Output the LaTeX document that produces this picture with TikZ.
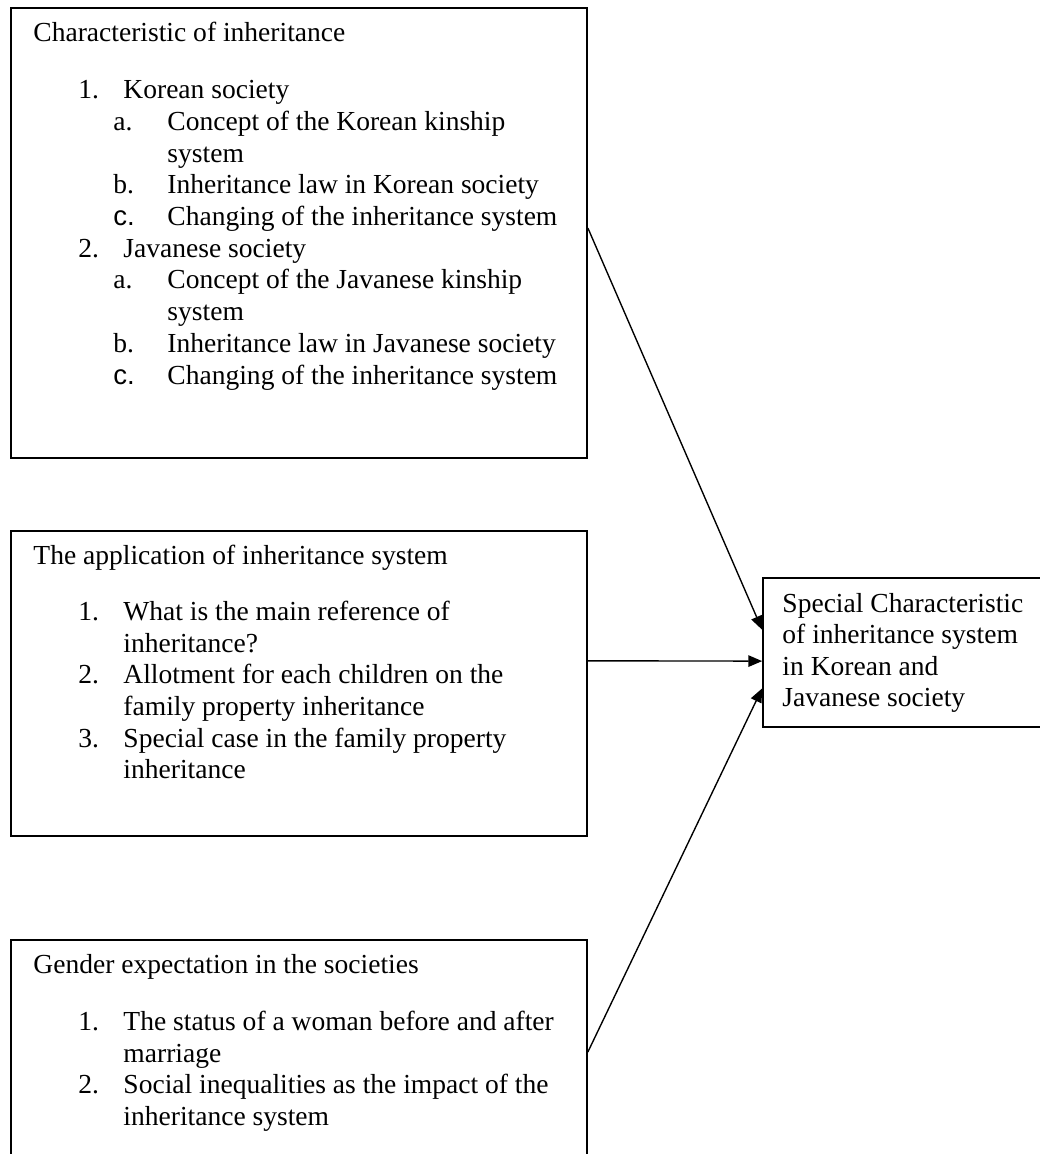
\documentclass[tikz,border=0pt]{standalone}
\usepackage{fontspec}
\setmainfont{Liberation Serif}
\setsansfont{Liberation Sans}
\usetikzlibrary{arrows.meta,calc}

\begin{document}
\begin{tikzpicture}[x=0.4359pt,y=-0.4359pt,
box/.style={draw,line width=0.75pt,inner sep=0pt},
txt/.style={anchor=base west,inner sep=0pt,font=\fontsize{12}{14}\selectfont},
lbl/.style={txt,font=\fontsize{12}{14}\selectfont\sffamily},
arr/.style={line width=0.6pt,-{Triangle[length=6pt,width=5pt]}}]
\useasboundingbox (0,0) rectangle (1040,1154);
\clip (0,0) rectangle (1040,1154);

% boxes
\node (bc) at (299,233) [box,minimum width=251.1pt,minimum height=196.2pt] {};
\node (ba) at (299,683.5) [box,minimum width=251.1pt,minimum height=132.9pt] {};
\node (bg) at (299,1070) [box,minimum width=251.1pt,minimum height=113.3pt] {};
\node (bs) at (931.5,652.5) [box,minimum width=146.9pt,minimum height=65pt] {};

% characteristic of inheritance
\node (c0) at (33,41) [txt] {Characteristic of inheritance};
\node (n1) at (78,98) [txt] {1.};
\node (c1) at (123,98) [txt] {Korean society};
\node (l1a) at (113,130) [txt] {a.};
\node (c1a) at (167,130) [txt] {Concept of the Korean kinship};
\node (c1aa) at (167,162) [txt] {system};
\node (l1b) at (113,193) [txt] {b.};
\node (c1b) at (167,193) [txt] {Inheritance law in Korean society};
\node (l1c) at (113,225) [lbl] {c.};
\node (c1c) at (167,225) [txt] {Changing of the inheritance system};
\node (n2) at (78,257) [txt] {2.};
\node (c2) at (123,257) [txt] {Javanese society};
\node (l2a) at (113,288) [txt] {a.};
\node (c2a) at (167,288) [txt] {Concept of the Javanese kinship};
\node (c2aa) at (167,320) [txt] {system};
\node (l2b) at (113,352) [txt] {b.};
\node (c2b) at (167,352) [txt] {Inheritance law in Javanese society};
\node (l2c) at (113,384) [lbl] {c.};
\node (c2c) at (167,384) [txt] {Changing of the inheritance system};

% application
\node (a0) at (33,564) [txt] {The application of inheritance system};
\node (m1) at (78,620) [txt] {1.};
\node (a1) at (123,620) [txt] {What is the main reference of};
\node (a1b) at (123,652) [txt] {inheritance?};
\node (m2) at (78,683) [txt] {2.};
\node (a2) at (123,683) [txt] {Allotment for each children on the};
\node (a2b) at (123,715) [txt] {family property inheritance};
\node (m3) at (78,747) [txt] {3.};
\node (a3) at (123,747) [txt] {Special case in the family property};
\node (a3b) at (123,778) [txt] {inheritance};

% gender
\node (g0) at (33,973) [txt] {Gender expectation in the societies};
\node (k1) at (78,1030) [txt] {1.};
\node (g1) at (123,1030) [txt] {The status of a woman before and after};
\node (g1b) at (123,1062) [txt] {marriage};
\node (k2) at (78,1093) [txt] {2.};
\node (g2) at (123,1093) [txt] {Social inequalities as the impact of the};
\node (g2b) at (123,1125) [txt] {inheritance system};

% special characteristic
\node (s1) at (782,612) [txt] {Special Characteristic};
\node (s2) at (782,643) [txt] {of inheritance system};
\node (s3) at (782,675) [txt] {in Korean and};
\node (s4) at (782,706) [txt] {Javanese society};

\draw ($(bc.north east)!0.489!(bc.south east)$) edge[arr] ($(bs.north west)!0.349!(bs.south west)$);
\draw ($(ba.north east)!0.426!(ba.south east)$) edge[arr] ($(bs.north west)!0.557!(bs.south west)$);
\draw ($(bg.north east)!0.431!(bg.south east)$) edge[arr] ($(bs.north west)!0.738!(bs.south west)$);

\end{tikzpicture}
\end{document}
